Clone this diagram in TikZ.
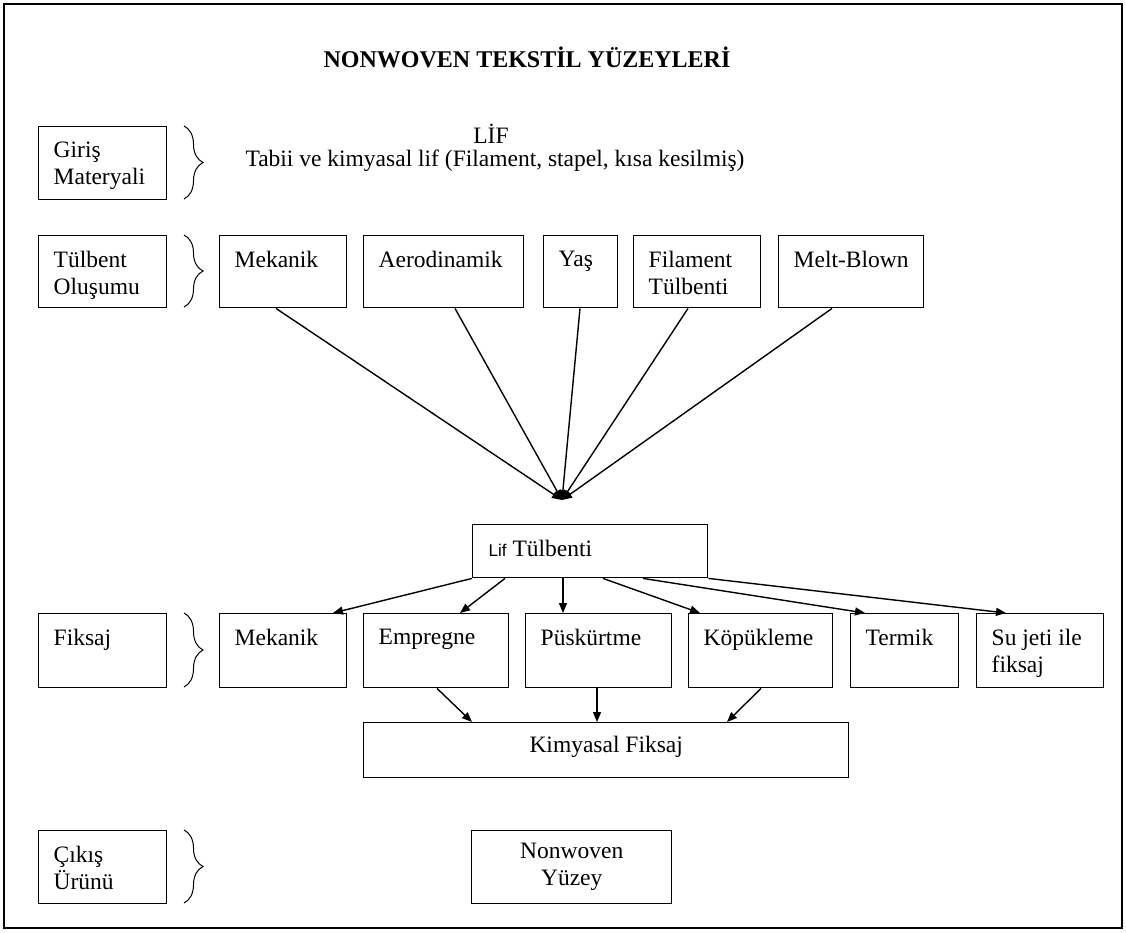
\documentclass[tikz,border=0pt]{standalone}
\usepackage{fontspec}
\setmainfont{Liberation Serif}
\newfontfamily\arialf{Liberation Sans}
\usetikzlibrary{arrows.meta,decorations.pathreplacing}
\newcommand\mainsz{\fontsize{23.5}{27}\selectfont}
\newcommand\lbox[3]{\parbox[c][#2][t]{#1}{\raggedright\leftskip=15pt\relax\vspace*{15pt}#3}}
\newcommand\cbox[4]{\parbox[c][#2][t]{#1}{\centering\vspace*{#3}#4}}
\begin{document}
\begin{tikzpicture}[x=1pt,y=-1pt,
  bx/.style={draw, line width=1.4pt, inner sep=0pt, anchor=north west, font=\mainsz},
  conn/.style={line width=1.4pt, -{Triangle[length=10pt,width=8pt]}},
  brc/.style={decorate, decoration={brace, amplitude=19pt, aspect=0.5}, line width=1pt},
  txt/.style={inner sep=0pt, anchor=base, font=\mainsz}]
\useasboundingbox (0,0) rectangle (1126,932);
\draw[line width=2.5pt] (4,4) rectangle (1122,928);

% title and input material
\node[txt, font=\bfseries\fontsize{24}{28}\selectfont] (title) at (527,67) {NONWOVEN TEKSTİL YÜZEYLERİ};
\node[txt] (lif) at (491,143) {LİF};
\node[txt] (tabii) at (495,166) {Tabii ve kimyasal lif (Filament, stapel, kısa kesilmiş)};

% left column labels
\node[bx] (giris) at (38,126) {\lbox{128pt}{73pt}{Giriş\\Materyali}};
\node[bx] (tulbent) at (38,235) {\lbox{128pt}{72pt}{Tülbent\\Oluşumu}};
\node[bx] (fiksaj) at (38,613) {\lbox{128pt}{74pt}{Fiksaj}};
\node[bx] (cikis) at (38,830) {\lbox{128pt}{73pt}{Çıkış\\Ürünü}};

\draw[brc] (184,126) -- (184,199);
\draw[brc] (184,235) -- (184,307);
\draw[brc] (184,613) -- (184,687);
\draw[brc] (184,830) -- (184,903);

% web formation row
\node[bx] (mek1) at (219,235) {\lbox{127pt}{72pt}{Mekanik}};
\node[bx] (aero) at (363,235) {\lbox{160pt}{72pt}{Aerodinamik}};
\node[bx] (yas) at (543,235) {\lbox{74pt}{72pt}{Yaş}};
\node[bx] (fil) at (633,235) {\lbox{127pt}{72pt}{Filament\\Tülbenti}};
\node[bx] (melt) at (778,235) {\lbox{145pt}{72pt}{Melt-Blown}};

\coordinate (conv) at (562,500);
\draw[conn] ([xshift=57pt]mek1.south west) -- (conv);
\draw[conn] ([xshift=92pt]aero.south west) -- (conv);
\draw[conn] ([xshift=37pt]yas.south west) -- (conv);
\draw[conn] ([xshift=55pt]fil.south west) -- (conv);
\draw[conn] ([xshift=54pt]melt.south west) -- (conv);

% fibre web
\node[bx] (lift) at (472,524) {\parbox[c][53pt][t]{235pt}{\raggedright\leftskip=16pt\relax\vspace*{15pt}{\arialf\fontsize{17}{20}\selectfont Lif} Tülbenti}};

% bonding row
\node[bx] (mek2) at (219,613) {\lbox{127pt}{74pt}{Mekanik}};
\node[bx] (emp) at (363,613) {\lbox{145pt}{74pt}{Empregne}};
\node[bx] (pus) at (525,613) {\lbox{146pt}{74pt}{Püskürtme}};
\node[bx] (kop) at (688,613) {\lbox{144pt}{74pt}{Köpükleme}};
\node[bx] (ter) at (850,613) {\lbox{108pt}{74pt}{Termik}};
\node[bx] (su) at (976,613) {\lbox{127pt}{74pt}{Su jeti ile\\fiksaj}};

\draw[conn] (lift.south west) -- ([xshift=114pt]mek2.north west);
\draw[conn] ([xshift=33pt]lift.south west) -- ([xshift=97pt]emp.north west);
\draw[conn] ([xshift=91pt]lift.south west) -- ([xshift=38pt]pus.north west);
\draw[conn] ([xshift=131pt]lift.south west) -- ([xshift=12pt]kop.north west);
\draw[conn] ([xshift=171pt]lift.south west) -- ([xshift=15pt]ter.north west);
\draw[conn] (lift.south east) -- ([xshift=30pt]su.north west);

% chemical bonding
\node[bx] (kim) at (363,722) {\cbox{485pt}{55pt}{13pt}{Kimyasal Fiksaj}};
\draw[conn] ([xshift=74pt]emp.south west) -- ([xshift=109pt]kim.north west);
\draw[conn] ([xshift=72pt]pus.south west) -- ([xshift=234pt]kim.north west);
\draw[conn] ([xshift=73pt]kop.south west) -- ([xshift=364pt]kim.north west);

% output
\node[bx] (nonw) at (471,830) {\cbox{200pt}{73pt}{12pt}{Nonwoven\\Yüzey}};
\end{tikzpicture}
\end{document}
